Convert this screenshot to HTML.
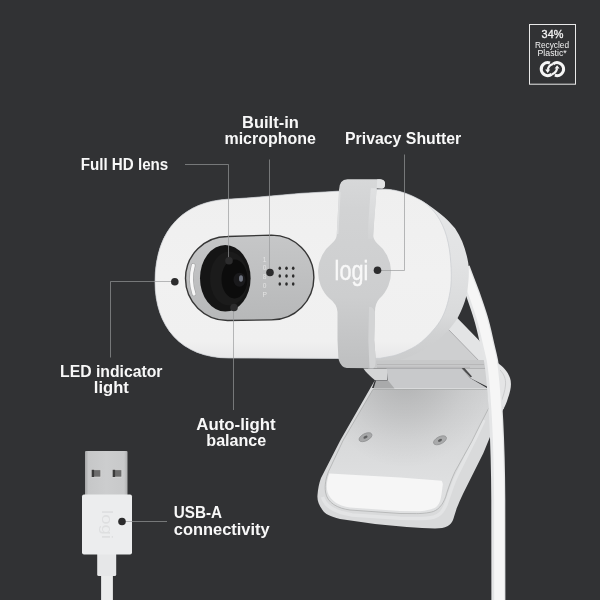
<!DOCTYPE html>
<html lang="en">
<head>
<meta charset="utf-8">
<title>Logitech Brio 100 – Features</title>
<style>
html,body{margin:0;padding:0;background:#313234;}
body{width:600px;height:600px;overflow:hidden;position:relative;}
svg{display:block;position:absolute;left:0;top:0;}
svg{will-change:transform;}
text{font-family:"Liberation Sans",sans-serif;}
.lbl{font-weight:bold;font-size:16px;fill:#f8f8f8;}
.ln{fill:none;stroke:#98999b;stroke-opacity:0.68;stroke-width:1;}
.dot{fill:#2c2c2d;}
</style>
</head>
<body>
<svg width="600" height="600" viewBox="0 0 600 600">
<defs>
  <linearGradient id="face" gradientUnits="userSpaceOnUse" x1="0" y1="190" x2="0" y2="358">
    <stop offset="0" stop-color="#efefef"/>
    <stop offset="0.5" stop-color="#f1f1f1"/>
    <stop offset="0.9" stop-color="#f0f0f0"/>
    <stop offset="1" stop-color="#e8e8e9"/>
  </linearGradient>
  <linearGradient id="side" gradientUnits="userSpaceOnUse" x1="0" y1="190" x2="0" y2="362">
    <stop offset="0" stop-color="#e6e7e8"/>
    <stop offset="0.4" stop-color="#e2e3e4"/>
    <stop offset="0.73" stop-color="#d9dadb"/>
    <stop offset="0.84" stop-color="#d0d1d2"/>
    <stop offset="1" stop-color="#cbcccd"/>
  </linearGradient>
  <linearGradient id="plate" gradientUnits="userSpaceOnUse" x1="0" y1="235" x2="0" y2="321">
    <stop offset="0" stop-color="#c6c7c8"/>
    <stop offset="1" stop-color="#b7b8b9"/>
  </linearGradient>
  <linearGradient id="clipg" gradientUnits="userSpaceOnUse" x1="0" y1="179" x2="0" y2="369">
    <stop offset="0" stop-color="#d7d8d9"/>
    <stop offset="0.16" stop-color="#d2d3d4"/>
    <stop offset="0.62" stop-color="#cdcecf"/>
    <stop offset="0.87" stop-color="#c3c4c5"/>
    <stop offset="1" stop-color="#bebfc0"/>
  </linearGradient>
  <linearGradient id="bandg" gradientUnits="userSpaceOnUse" x1="0" y1="188" x2="0" y2="240">
    <stop offset="0" stop-color="#e0e1e2"/>
    <stop offset="0.5" stop-color="#dadbdc"/>
    <stop offset="1" stop-color="#d2d3d4"/>
  </linearGradient>
  <linearGradient id="base" gradientUnits="userSpaceOnUse" x1="0" y1="388" x2="0" y2="512">
    <stop offset="0" stop-color="#d0d1d2"/>
    <stop offset="0.42" stop-color="#d8d9da"/>
    <stop offset="0.74" stop-color="#dedfe0"/>
    <stop offset="1" stop-color="#dfe0e1"/>
  </linearGradient>
  <radialGradient id="shadow" gradientUnits="userSpaceOnUse" cx="405" cy="380" r="88" gradientTransform="translate(405 380) scale(0.95 1) translate(-405 -380)">
    <stop offset="0" stop-color="#000" stop-opacity="0.14"/>
    <stop offset="0.4" stop-color="#000" stop-opacity="0.085"/>
    <stop offset="0.7" stop-color="#000" stop-opacity="0.035"/>
    <stop offset="1" stop-color="#000" stop-opacity="0"/>
  </radialGradient>
  <linearGradient id="metal" gradientUnits="userSpaceOnUse" x1="85" y1="0" x2="127.5" y2="0">
    <stop offset="0" stop-color="#a4a5a6"/>
    <stop offset="0.08" stop-color="#c6c7c8"/>
    <stop offset="0.5" stop-color="#cccdce"/>
    <stop offset="0.92" stop-color="#c8c9ca"/>
    <stop offset="1" stop-color="#aeafb0"/>
  </linearGradient>
</defs>
<rect width="600" height="600" fill="#313234"/>

<!-- ===== mount base ===== -->
<g id="mount">
  <!-- hinge triangle face -->
  <path d="M368,350 L447.5,327 L484,365 L368,366 Z" fill="#cecfd0"/>
  <!-- arm -->
  <path d="M440,326 L457.3,318 L478.7,340 L492,356 L492,374 L482,364 L448,329 Z" fill="#e3e4e5"/>
  <path d="M448,329 L482,364" stroke="#9fa0a2" stroke-width="0.8" fill="none"/>
  <!-- strip -->
  <rect x="368" y="360" width="119" height="8.3" fill="#c7c8c9"/>
  <path d="M377,364.5 H484 M377,367.3 H470" stroke="#b2b3b4" stroke-width="0.8" fill="none"/>
  <!-- block -->
  <path d="M386.7,368.3 L461.7,368.3 L470,378 L487,388 L388,388 Z" fill="#c8c9cb"/>
  <path d="M461.7,368.3 L489,368.3 L490,388 L470,378 Z" fill="#cfd0d1"/>
  <path d="M461.7,368 L470.5,377.5 L472,376.5 L464.5,368 Z" fill="#4a4a4b"/>
  <!-- cable loop -->
  <path d="M496,362 C503,366 507.5,371 510,378 C511.8,383 511,390 508,398 C506.5,403 505,406 503.5,409 L494,412 Z" fill="#e4e5e6"/>
  <path d="M500,370 C504,374 506,379 505.5,385 C505,391 503,397 501,402" fill="none" stroke="#c4c5c7" stroke-width="0.8"/>
  <!-- base outer -->
  <path d="M375,380 L372,388 L489,388 L504,408 L497,420 L490.8,435 L483.3,453.3 L473.3,473.3 L463.3,493.3 C460.5,499 458.5,504 456.7,508.3 C455,514 454,517 453,520 C451,525 446,528.5 435,528.5 C420,528.3 395,526 375,524 L340,519 C330,516.5 325,514 322.5,510 C318.5,505 317,500 317.5,495 C318,489 319,483 321,478 L340.5,440 Z" fill="#d9dadb"/>
  <path d="M484,420 L476,437 L466,457 L457,475 C453,483 450,493 447.5,500 C445,509 441,515 434,517 C428,518.5 420,518.6 416.7,518.6 L400,518.3 L352,515 L341,512.5 C331,509.5 324.5,504 322.5,497" fill="none" stroke="#e3e4e5" stroke-width="3.5"/>
  <!-- base top surface -->
  <path d="M372.8,389.5 L488,389.5 L489,407.5 L480,425 L471.7,441.7 L463.3,456.7 L455,471.7 C452,478 449,486 446.7,493.3 C444.5,502 440,509 433.3,511.5 C428,513.2 420,513.6 416.7,513.6 L400,513.5 L350,510 C338,508.5 327,503 325.5,492 C324.5,485 326,478 328.5,471.5 L343.3,440 Z" fill="url(#base)" stroke="#a9aaab" stroke-width="0.7"/>
  <path d="M372.8,389.5 L488,389.5 L489,407.5 L480,425 L471.7,441.7 L463.3,456.7 L455,471.7 C452,478 449,486 446.7,493.3 C444.5,502 440,509 433.3,511.5 C428,513.2 420,513.6 416.7,513.6 L400,513.5 L350,510 C338,508.5 327,503 325.5,492 C324.5,485 326,478 328.5,471.5 L343.3,440 Z" fill="url(#shadow)"/>
  <!-- hook under clip -->
  <path d="M363.4,368.5 L387,368.5 L387,380.3 L375,380.3 C370,376 366,372.5 363.4,368.5 Z" fill="#d4d5d6"/>
  <!-- foot -->
  <path d="M376,380.4 L388,380.4 L394.5,388.6 L373.5,388.6 Z" fill="#a9aaab"/>
  <!-- pad -->
  <path d="M329.3,473.6 L400,477.5 L441.7,480.8 C443,483 443,485 442.5,486.7 C442,491 441.5,495 440.8,498.3 C439.5,504 437,507.5 433.3,508.5 C428,510.5 420,511.3 416.7,511.3 L400,511 L350,507.5 C339,506 330,500.5 327.5,492 C326,486 327,480 329.3,473.6 Z" fill="#f6f6f6"/>
  <!-- screws -->
  <g transform="translate(365.5 437.2) rotate(-27)"><ellipse rx="7" ry="3.6" fill="#a6a7a8" stroke="#8d8e8f" stroke-width="0.7"/><ellipse rx="2.2" ry="1.3" fill="#5e5f60"/></g>
  <g transform="translate(440 440.3) rotate(-27)"><ellipse rx="7" ry="3.6" fill="#a9aaab" stroke="#909192" stroke-width="0.7"/><ellipse rx="2.2" ry="1.3" fill="#5e5f60"/></g>
</g>

<!-- ===== cable ===== -->
<path d="M463,268 C467,279 471,289 473.8,296.7 C476,303 478.5,310 480.65,317.3 C483,325 485,334 486.3,340 C488.5,350 490.3,356 491.2,361.7 C492.8,372 494.8,395 496.2,420 C497.5,445 498.2,480 498.3,500 L498.4,602" fill="none" stroke="#e4e5e6" stroke-width="14"/>
<path d="M463,268 C467,279 471,289 473.8,296.7 C476,303 478.5,310 480.65,317.3 C483,325 485,334 486.3,340 C488.5,350 490.3,356 491.2,361.7 C492.8,372 494.8,395 496.2,420 C497.5,445 498.2,480 498.3,500 L498.4,602" fill="none" stroke="#f6f6f6" stroke-width="10" transform="translate(0.8 0)"/>

<!-- ===== camera body ===== -->
<g id="body">
  <!-- silhouette incl. side band -->
  <path d="M155,282 C155,228 185.5,201.3 228,199.2 L250,197.8 L280,195.2 L300,193.4 L338,191.2 L385,189.2 C397,189.5 410,194 423,201.5 C436,209.5 447,218.5 455,228.3 C462,238.5 466,250 468.3,263.3 C469.5,272 468.5,282 467.5,290 C466,300 462,310 457.5,318.3 C452,327 444,336 434,343 C424,350 412,357 400,360 L377,360.5 L338,358.5 L229,358 C181,358 155,326.5 155,282 Z" fill="url(#side)"/>
  <!-- front face -->
  <path d="M155,282 C155,228 185.5,201.3 228,199.2 L250,197.8 L280,195.2 L300,193.4 L338,191.2 L385,189.2 C397,189.5 410,194 421.7,200.8 C428,204.5 433,210 436.7,215 C441,221 444.5,229 446.7,236.7 C449,245 450.3,254 450.8,263.3 C451.3,270 451.6,278 450.8,286.7 C450,293 449,298 447.5,303.3 C446,309 444,314 441.7,318.3 C439.5,322.5 436.5,326.5 433.3,330 C430,334 426,338 421.7,341.7 C417.5,345 413,348 408.3,350 C403.5,352.5 398,354.5 393.3,355.8 L380,358.3 L338,358.5 L229,358 C181,358 155,326.5 155,282 Z" fill="url(#face)" stroke="#c9ccd0" stroke-width="0.7"/>
</g>

<!-- ===== lens plate ===== -->
<path d="M227.5,236.5 L271.5,235.1 A42.4,42.4 0 0 1 271.5,319.9 L227.5,320.5 A42,42 0 0 1 227.5,236.5 Z" fill="url(#plate)" stroke="#363636" stroke-width="1.4"/>
<!-- LED slot -->
<path d="M193.3,265.3 Q189.2,280 194,294" fill="none" stroke="#9fa0a1" stroke-width="4.4" stroke-linecap="round"/><path d="M193.3,265.3 Q189.2,280 194,294" fill="none" stroke="#f6f6f6" stroke-width="3.2" stroke-linecap="round"/>
<!-- lens -->
<ellipse cx="225.3" cy="278.3" rx="25.3" ry="33.3" fill="#151515"/>
<ellipse cx="229" cy="278.6" rx="19" ry="27" fill="#1b1b1b"/>
<ellipse cx="234.5" cy="279" rx="13" ry="19.5" fill="#0c0c0c"/>
<ellipse cx="239.5" cy="279.7" rx="6" ry="7" fill="#19191b"/>
<ellipse cx="241" cy="278.5" rx="2" ry="3.2" fill="#6f7480"/>
<!-- 1080P -->
<text font-size="6.6" fill="#e4e4e4" text-anchor="middle" x="264.6 264.6 264.6 264.6 264.6" y="261.6 270.3 279.1 287.8 296.6">1080P</text>
<!-- mic holes -->
<g fill="#2b2b2b">
  <ellipse cx="279.8" cy="268.3" rx="1.3" ry="1.75"/>  <ellipse cx="286.5" cy="268.3" rx="1.3" ry="1.75"/>  <ellipse cx="293.2" cy="268.3" rx="1.3" ry="1.75"/>  <ellipse cx="279.8" cy="276.1" rx="1.3" ry="1.75"/>  <ellipse cx="286.5" cy="276.1" rx="1.3" ry="1.75"/>  <ellipse cx="293.2" cy="276.1" rx="1.3" ry="1.75"/>  <ellipse cx="279.8" cy="283.9" rx="1.3" ry="1.75"/>  <ellipse cx="286.5" cy="283.9" rx="1.3" ry="1.75"/>  <ellipse cx="293.2" cy="283.9" rx="1.3" ry="1.75"/>
</g>

<!-- ===== privacy shutter clip ===== -->
<g id="clip">
  <path d="M339,190 Q339.2,179.4 347.5,179.2 L380,179.2 Q385.5,179.5 385,184.5 L384.6,186.8 Q384,188.5 382,188.4 L376.7,188.3 L374.2,220 L373.2,235 Q373.2,239.5 377,243.2 A36.5,36.5 0 0 1 379.5,298.6 Q375,303.5 375,311.7 L374.2,340 L375.8,360 Q376,367 373.3,368.3 L346.7,368 Q340.8,367 338.8,360 L338.3,356.7 L337.5,340 L337.5,312 Q337,304 329.5,298.5 A36.5,36.5 0 0 1 332,243.3 Q336.5,239.5 336.7,235 L337.5,220 Z" fill="url(#clipg)"/>
  <path d="M339.9,192 L338.3,220 L337.6,234" fill="none" stroke="#dddedf" stroke-width="1.6"/>
  <path d="M377.2,179.2 L380,179.2 Q385.5,179.5 385,184.5 L384.6,186.8 Q384,188.5 382,188.4 L376.7,188.3 Z" fill="#e2e3e4"/>
  <path d="M370.8,188.3 L376.7,188.3 L374.2,220 L373.2,235 L372.5,239 L367.8,239 L368.5,220 Z" fill="url(#bandg)"/>
  <path d="M369,307 Q372,306 375,311.7 L374.2,340 L375.8,360 Q376,367 373.3,368.3 L369.5,368.3 L368.3,340 Z" fill="#d3d4d5"/>
  <text x="334.6" y="280" font-size="27" fill="#f8f8f8" stroke="#f8f8f8" stroke-width="0.45" textLength="33.6" lengthAdjust="spacingAndGlyphs">logi</text>
</g>

<!-- ===== USB-A ===== -->
<g id="usb">
  <rect x="101.1" y="570" width="11.8" height="32" fill="#ebecec"/>
  <rect x="97.2" y="553" width="19" height="23" rx="1.5" fill="#e6e7e8"/>
  <rect x="85" y="451" width="42.5" height="45" rx="1" fill="url(#metal)"/>
  <rect x="91.7" y="469.8" width="9.1" height="7.2" fill="#6c6c6c" stroke="#dcdcdc" stroke-width="0.6"/><rect x="91.7" y="469.8" width="2.4" height="7.2" fill="#3a3a3a"/>
  <rect x="112.7" y="469.8" width="9.1" height="7.2" fill="#6c6c6c" stroke="#dcdcdc" stroke-width="0.6"/><rect x="112.7" y="469.8" width="2.4" height="7.2" fill="#3a3a3a"/>
  <rect x="82" y="494.5" width="50" height="60" rx="2" fill="#ecedee"/>
  <text transform="translate(101.8 510) rotate(90)" font-size="15" fill="#dedfe0" textLength="29" lengthAdjust="spacingAndGlyphs">logi</text>
</g>

<!-- ===== callout lines ===== -->
<g class="ln">
  <path d="M185,164.5 H228.5 V260"/>
  <path d="M269.5,159.5 V272"/>
  <path d="M404.5,154.5 V270.5 H378"/>
  <path d="M110.5,357.5 V281.5 H175"/>
  <path d="M233.5,410 V307"/>
  <path d="M167,521.5 H122"/>
</g>
<g class="dot">
  <circle cx="229" cy="260.8" r="3.8"/>
  <circle cx="270" cy="272.5" r="3.8"/>
  <circle cx="377.5" cy="270.3" r="3.8"/>
  <circle cx="174.8" cy="281.8" r="3.8"/>
  <circle cx="234" cy="307.5" r="3.8"/>
  <circle cx="122" cy="521.5" r="3.8"/>
</g>

<!-- ===== labels ===== -->
<g class="lbl">
  <text x="80.7" y="170" textLength="87.6" lengthAdjust="spacingAndGlyphs">Full HD lens</text>
  <text x="242" y="127.5" textLength="56.8" lengthAdjust="spacingAndGlyphs">Built-in</text>
  <text x="224.5" y="143.5" textLength="91.3" lengthAdjust="spacingAndGlyphs">microphone</text>
  <text x="345" y="143.8" textLength="116.3" lengthAdjust="spacingAndGlyphs">Privacy Shutter</text>
  <text x="60" y="376.8" textLength="102.5" lengthAdjust="spacingAndGlyphs">LED indicator</text>
  <text x="93.8" y="393" textLength="35" lengthAdjust="spacingAndGlyphs">light</text>
  <text x="196.3" y="429.5" textLength="79.3" lengthAdjust="spacingAndGlyphs">Auto-light</text>
  <text x="206.3" y="446.3" textLength="60" lengthAdjust="spacingAndGlyphs">balance</text>
  <text x="173.8" y="518.3" textLength="48.3" lengthAdjust="spacingAndGlyphs">USB-A</text>
  <text x="173.8" y="535" textLength="95.8" lengthAdjust="spacingAndGlyphs">connectivity</text>
</g>

<!-- ===== recycled badge ===== -->
<g id="badge">
  <rect x="529.5" y="24.5" width="46" height="59.7" fill="none" stroke="#e9e9e9" stroke-width="1"/>
  <g fill="#f4f4f4">
  <text x="541.6" y="38" font-size="11" textLength="21.8" lengthAdjust="spacingAndGlyphs" stroke="#f4f4f4" stroke-width="0.3">34%</text>
  <text x="535" y="48.2" font-size="9.3" textLength="34" lengthAdjust="spacingAndGlyphs">Recycled</text>
  <text x="537.5" y="56.2" font-size="9.3" textLength="29.2" lengthAdjust="spacingAndGlyphs">Plastic*</text>
  </g>
  <g fill="none" stroke="#f6f6f6" stroke-width="3">
    <path d="M549.92,62.99 A6.5,6.5 0 1 0 551.70,74.22"/>
    <path d="M554.88,75.21 A6.5,6.5 0 1 0 553.10,63.98"/>
    <path d="M551.70,74.22 Q556.2,73.2 557.1,68.3" stroke-width="2.2"/>
    <path d="M553.10,63.98 Q548.6,65 547.7,69.9" stroke-width="2.2"/>
  </g>
  <path d="M554.6,68.6 L559.6,68.6 L557.1,65.3 Z M545.2,69.6 L550.2,69.6 L547.7,72.9 Z" fill="#f6f6f6"/>
</g>
</svg>
</body>
</html>
